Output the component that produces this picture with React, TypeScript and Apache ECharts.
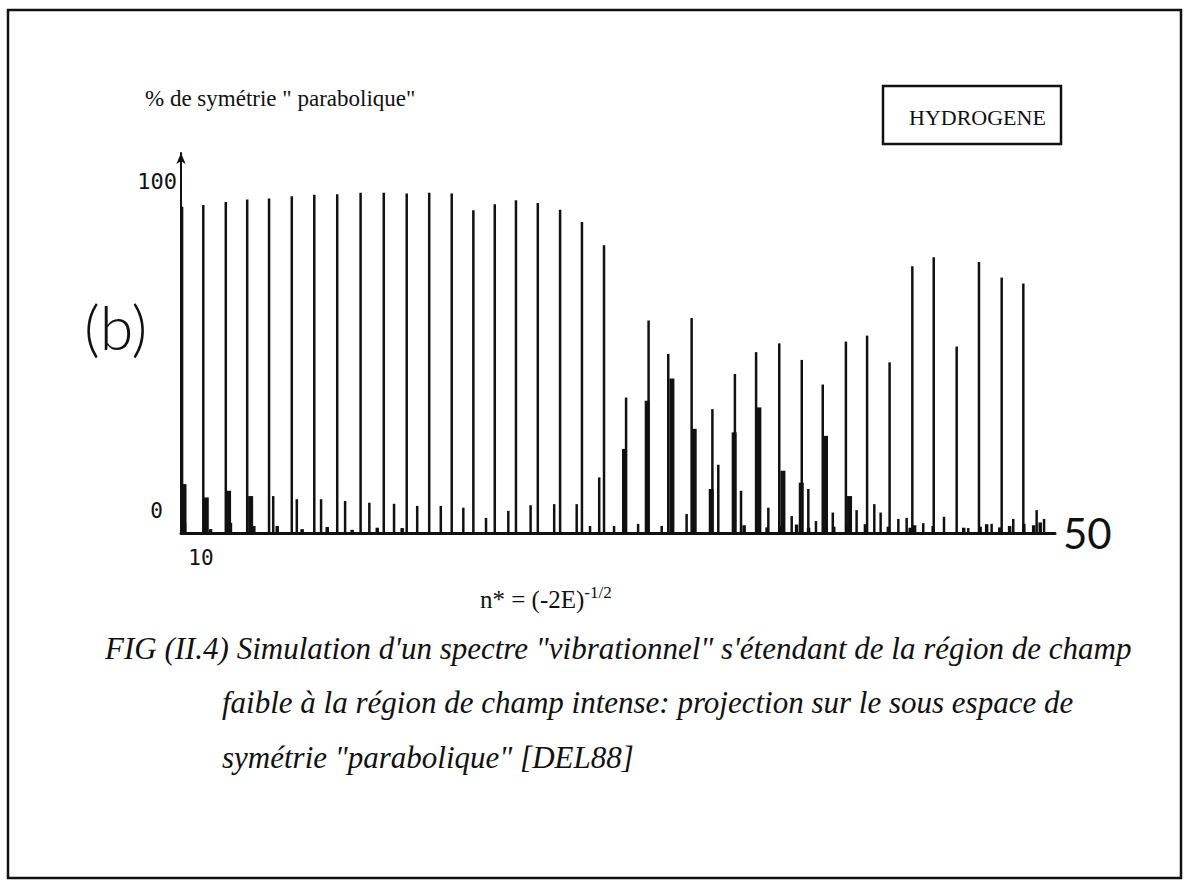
import React, { useEffect, useRef } from 'react';
import * as echarts from 'echarts';

// n* positions and % of "parabolic" symmetry
const mainPeaks: [number, number][] = [
  [10.05, 92.7], [11.02, 93.2], [12.05, 94.1], [13.03, 94.8], [14.03, 95.1],
  [15.07, 95.7], [16.10, 96.1], [17.15, 96.3], [18.22, 96.7], [19.28, 96.7],
  [20.33, 96.5], [21.36, 96.7], [22.39, 96.5], [23.38, 91.7], [24.36, 93.4],
  [25.33, 94.6], [26.33, 93.8], [27.35, 91.9], [28.35, 88.4], [29.36, 81.8],
  [29.14, 15.8], [30.37, 38.5], [31.40, 60.4], [32.30, 50.9], [33.37, 61.1],
  [34.32, 35.2], [34.59, 19.4], [35.35, 45.2], [35.63, 12.0], [36.32, 51.4],
  [37.38, 53.9], [38.41, 49.2], [38.71, 12.5], [39.37, 42.2], [40.43, 54.4],
  [41.40, 56.1], [42.43, 48.5], [43.47, 75.8], [44.45, 78.4], [45.50, 53.0],
  [46.52, 77.0], [47.56, 72.6], [48.55, 70.9]
];

const thickParts: [number, number][] = [
  [10.08, 13.9], [11.10, 10.1], [12.12, 12.0], [13.13, 10.5],
  [30.24, 23.9], [31.28, 37.6], [32.41, 43.9], [33.43, 29.6], [34.21, 12.5],
  [35.26, 28.6], [36.39, 35.7], [37.49, 17.7], [38.33, 14.3], [39.44, 27.6],
  [40.54, 10.5]
];

const satellitePeaks: [number, number][] = [
  [14.22, 10.5], [15.30, 9.6], [16.41, 9.6], [17.51, 9.1], [18.62, 8.6],
  [19.75, 8.3], [20.81, 7.7], [21.89, 7.7], [22.92, 7.2], [23.96, 4.3],
  [24.98, 6.3], [26.00, 7.9], [27.08, 8.2], [28.11, 8.2], [28.72, 2.0],
  [29.82, 2.0], [30.92, 2.6], [32.00, 2.0], [33.14, 5.4], [36.88, 7.2],
  [37.95, 4.8], [39.06, 3.4], [39.83, 5.8], [40.92, 6.5], [41.73, 8.2],
  [42.02, 5.8], [42.83, 4.0], [43.21, 4.3], [43.97, 2.8], [44.92, 4.6],
  [46.03, 1.4], [47.10, 2.6], [48.09, 4.0], [49.16, 6.5], [49.50, 4.0]
];

const baselineBumps: [number, number][] = [
  [10.14, 2.9], [11.33, 1.1], [12.24, 2.9], [13.31, 2.0], [14.38, 2.0],
  [15.52, 1.1], [16.67, 1.7], [17.81, 0.9], [18.96, 1.5], [20.10, 1.4],
  [35.75, 2.2], [36.80, 1.6], [37.40, 2.0], [38.15, 2.4], [38.70, 1.5],
  [39.85, 1.8], [40.45, 2.0], [41.30, 2.5], [42.35, 1.8], [43.35, 1.5],
  [43.55, 2.2], [44.40, 2.0], [45.80, 1.5], [46.55, 1.8], [46.85, 2.5],
  [47.45, 1.6], [47.90, 2.0], [48.55, 2.6], [49.00, 2.2], [49.30, 3.0]
];

const xRange = [10, 50];
const yRange = [0, 108];
const yTickLabels = ['0', '100'];
const xTickLabels = ['10'];
const xEndLabel = '50';

const yTitle = '% de symétrie " parabolique"';
const boxLabel = 'HYDROGENE';
const panelLabel = '(b)';
const captionLines = [
  'FIG (II.4) Simulation d\'un spectre "vibrationnel" s\'étendant de la région de champ',
  'faible à la région de champ intense: projection sur le sous espace de',
  'symétrie "parabolique" [DEL88]'
];

const INK = '#111111';
const MONO = '"DejaVu Sans Mono", monospace';
const SERIF = '"Liberation Serif", serif';

export default function App() {
  const ref = useRef<HTMLDivElement>(null);

  useEffect(() => {
    if (!ref.current) return;
    const chart = echarts.init(ref.current, null, { renderer: 'svg' });

    const barSeries = (data: [number, number][], width: number) => ({
      type: 'bar',
      data,
      barWidth: width,
      barGap: '-100%',
      itemStyle: { color: INK },
      silent: true
    });

    chart.setOption({
      animation: false,
      backgroundColor: '#ffffff',
      grid: { left: 181, right: 133, top: 153, bottom: 348, containLabel: false },
      xAxis: {
        type: 'value',
        min: xRange[0],
        max: xRange[1],
        interval: 10,
        name: xEndLabel,
        nameLocation: 'end',
        nameGap: 8,
        nameTextStyle: {
          fontFamily: 'Lato, "DejaVu Sans", sans-serif',
          fontSize: 42,
          color: INK,
          verticalAlign: 'middle',
          align: 'left'
        },
        axisLine: { show: true, lineStyle: { color: INK, width: 3 } },
        axisTick: { show: false },
        splitLine: { show: false },
        axisLabel: {
          margin: 14,
          formatter: (v: number) => (v === xRange[0] ? '{t|' + xTickLabels[0] + '}' : ''),
          rich: {
            t: {
              fontFamily: MONO,
              fontSize: 21,
              color: INK,
              padding: [0, 0, 0, 40]
            }
          }
        }
      },
      yAxis: {
        type: 'value',
        min: yRange[0],
        max: yRange[1],
        interval: 100,
        axisLine: {
          show: true,
          onZero: false,
          symbol: ['none', 'arrow'],
          symbolSize: [7, 11],
          lineStyle: { color: INK, width: 2 }
        },
        axisTick: { show: false },
        splitLine: { show: false },
        axisLabel: {
          margin: 4,
          formatter: (v: number) =>
            v === 0 ? '{z|' + yTickLabels[0] + '}' : v === 100 ? '{h|' + yTickLabels[1] + '}' : '',
          rich: {
            z: {
              fontFamily: MONO,
              fontSize: 21,
              color: INK,
              padding: [0, 14, 44, 0]
            },
            h: {
              fontFamily: MONO,
              fontSize: 22,
              color: INK
            }
          }
        }
      },
      series: [
        barSeries(baselineBumps, 3.5),
        barSeries(satellitePeaks, 2.5),
        barSeries(thickParts, 5),
        barSeries(mainPeaks, 2.5)
      ],
      graphic: [
        {
          type: 'rect',
          shape: { x: 8, y: 10, width: 1173, height: 868 },
          style: { fill: 'none', stroke: INK, lineWidth: 2.5 },
          silent: true
        },
        {
          type: 'rect',
          shape: { x: 883, y: 86, width: 178, height: 58 },
          style: { fill: 'none', stroke: INK, lineWidth: 2.5 },
          silent: true
        },
        {
          type: 'text',
          x: 909,
          y: 117,
          style: {
            text: boxLabel,
            fontFamily: SERIF,
            fontSize: 22,
            fill: INK,
            verticalAlign: 'middle'
          }
        },
        {
          type: 'text',
          x: 145,
          y: 98,
          style: {
            text: yTitle,
            fontFamily: SERIF,
            fontSize: 23,
            fill: INK,
            verticalAlign: 'middle'
          }
        },
        {
          type: 'text',
          x: 84,
          y: 326,
          style: {
            text: panelLabel,
            fontFamily: 'Lato, "DejaVu Sans", sans-serif',
            fontSize: 61,
            fontWeight: 300,
            fill: INK,
            verticalAlign: 'middle'
          }
        },
        {
          type: 'text',
          x: 480,
          y: 598,
          style: {
            text: '{b|n* = (-2E)}{s|-1/2}',
            fontFamily: SERIF,
            fill: INK,
            verticalAlign: 'middle',
            rich: {
              b: { fontFamily: SERIF, fontSize: 25, fill: INK, verticalAlign: 'bottom' },
              s: {
                fontFamily: SERIF,
                fontSize: 17,
                fill: INK,
                verticalAlign: 'bottom',
                padding: [0, 0, 11, 0]
              }
            }
          }
        },
        ...captionLines.map((line, i) => ({
          type: 'text',
          x: i === 0 ? 105 : 222,
          y: 648 + i * 54.5,
          style: {
            text: line,
            fontFamily: SERIF,
            fontStyle: 'italic',
            fontSize: 31,
            fill: INK,
            verticalAlign: 'middle'
          }
        }))
      ]
    });

    return () => chart.dispose();
  }, []);

  return (
    <div
      ref={ref}
      style={{ position: 'absolute', left: 0, top: 0, width: 1188, height: 881, background: '#fff' }}
    />
  );
}
